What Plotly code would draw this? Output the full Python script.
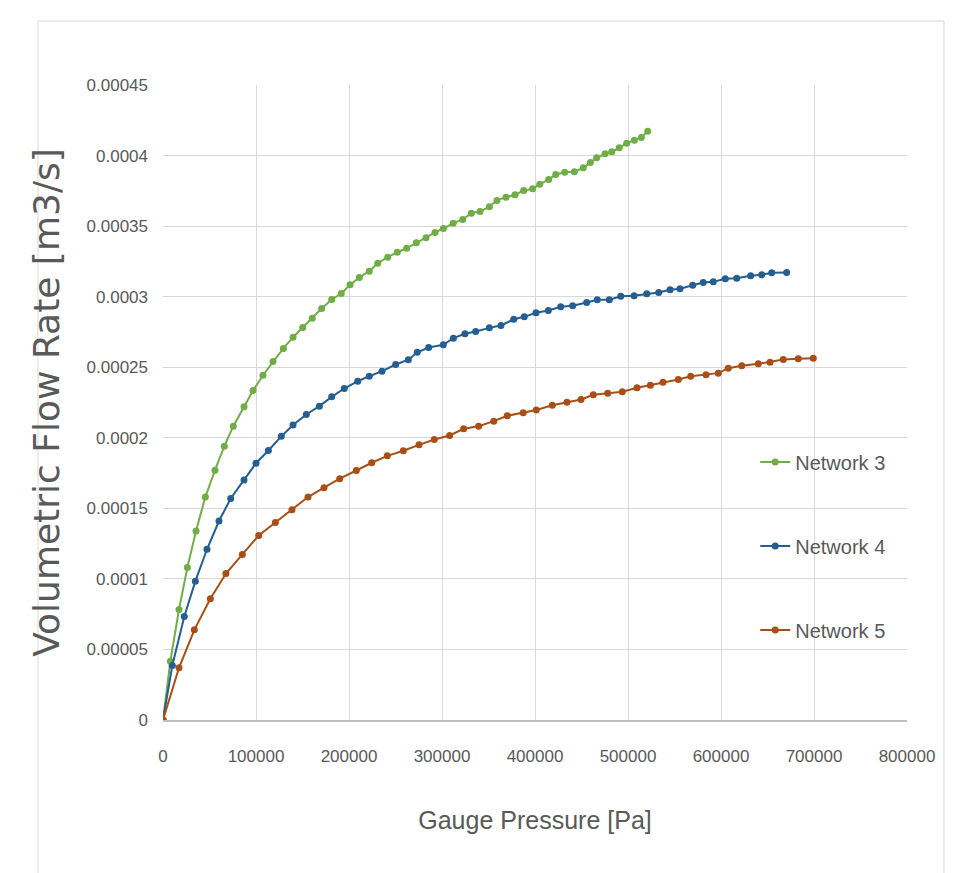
import plotly.graph_objects as go

# ---- data ----
net3_p = [0, 7900, 17200, 26200, 35500, 45500, 55900, 65900, 75600, 87100, 96800, 107500,
          118300, 129400, 139800, 150200, 160500, 170600, 181400, 191700, 201100, 211100,
          221800, 230900, 241600, 251900, 262000, 272400, 282800, 292500, 301400, 312100,
          322300, 331500, 340900, 350900, 359100, 368800, 378500, 387800, 397500, 405100,
          414700, 422300, 431900, 442300, 451900, 459500, 466300, 475300, 482500, 490600,
          498600, 506800, 514300, 521200]
net3_q = [0, 0.0000417, 0.0000783, 0.0001080, 0.0001340, 0.0001580, 0.0001770, 0.0001940,
          0.0002082, 0.0002220, 0.0002335, 0.0002443, 0.0002541, 0.0002633, 0.0002713,
          0.0002782, 0.0002847, 0.0002916, 0.0002980, 0.0003022, 0.0003084, 0.0003136,
          0.0003181, 0.0003237, 0.0003280, 0.0003315, 0.0003343, 0.0003382, 0.0003417,
          0.0003455, 0.0003483, 0.0003521, 0.0003547, 0.0003592, 0.0003604, 0.0003637,
          0.0003682, 0.0003705, 0.0003722, 0.0003752, 0.0003764, 0.0003797, 0.0003830,
          0.0003866, 0.0003882, 0.0003885, 0.0003913, 0.0003951, 0.0003984, 0.0004012,
          0.0004027, 0.0004055, 0.0004088, 0.0004109, 0.0004128, 0.0004173]

net4_p = [0, 10000, 22900, 34800, 47300, 60200, 72800, 87100, 100000, 113300, 127200, 139800,
          154100, 168100, 181400, 194900, 209400, 221800, 235500, 250200, 263800, 273400,
          285700, 301400, 312200, 324700, 336200, 350900, 363400, 377100, 388500, 401100,
          414300, 427600, 440500, 455600, 467000, 479900, 492200, 506500, 520100, 533000,
          545200, 555900, 569600, 580900, 591700, 604600, 616900, 631900, 643800, 654500,
          670600]
net4_q = [0, 0.0000386, 0.0000733, 0.0000984, 0.0001210, 0.0001410, 0.0001570, 0.0001700,
          0.0001820, 0.0001910, 0.0002010, 0.0002090, 0.0002165, 0.0002224, 0.0002290,
          0.0002349, 0.0002401, 0.0002436, 0.0002472, 0.0002519, 0.0002553, 0.0002606,
          0.0002640, 0.0002659, 0.0002706, 0.0002737, 0.0002753, 0.0002779, 0.0002796,
          0.0002840, 0.0002857, 0.0002886, 0.0002902, 0.0002928, 0.0002935, 0.0002959,
          0.0002978, 0.0002978, 0.0003003, 0.0003006, 0.0003020, 0.0003030, 0.0003049,
          0.0003056, 0.0003081, 0.0003100, 0.0003105, 0.0003127, 0.0003131, 0.0003148,
          0.0003155, 0.0003169, 0.0003171]

net5_p = [0, 17200, 33700, 50900, 67700, 85300, 102900, 120800, 138700, 155900, 173100,
          190000, 207900, 224400, 241200, 258400, 275300, 291700, 308200, 323300, 339400,
          355600, 370200, 387300, 401400, 418600, 434400, 449500, 462700, 478200, 493900,
          509700, 524100, 537600, 554100, 567400, 583900, 597100, 607800, 622300, 640100,
          652700, 667000, 683100, 699200]
net5_q = [0, 0.0000370, 0.0000639, 0.0000859, 0.0001038, 0.0001173, 0.0001308, 0.0001400,
          0.0001490, 0.0001580, 0.0001646, 0.0001710, 0.0001768, 0.0001823, 0.0001872,
          0.0001908, 0.0001950, 0.0001988, 0.0002016, 0.0002064, 0.0002082, 0.0002118,
          0.0002156, 0.0002177, 0.0002197, 0.0002231, 0.0002252, 0.0002271, 0.0002305,
          0.0002316, 0.0002326, 0.0002354, 0.0002372, 0.0002393, 0.0002413, 0.0002436,
          0.0002446, 0.0002458, 0.0002493, 0.0002510, 0.0002524, 0.0002536, 0.0002555,
          0.0002560, 0.0002564]

series_names = ["Network 3", "Network 4", "Network 5"]
series_colors = ["#70AD47", "#255E91", "#A84F17"]

x_tickvals = [0, 100000, 200000, 300000, 400000, 500000, 600000, 700000, 800000]
x_ticktext = ["0", "100000", "200000", "300000", "400000", "500000", "600000", "700000", "800000"]
y_tickvals = [0, 0.00005, 0.0001, 0.00015, 0.0002, 0.00025, 0.0003, 0.00035, 0.0004, 0.00045]
y_ticktext = ["0", "0.00005", "0.0001", "0.00015", "0.0002", "0.00025", "0.0003",
              "0.00035", "0.0004", "0.00045"]

NARROW = "Liberation Sans Narrow, Arial Narrow, Liberation Sans, sans-serif"

fig = go.Figure()
for i, (xs, ys) in enumerate([(net3_p, net3_q), (net4_p, net4_q), (net5_p, net5_q)]):
    fig.add_trace(go.Scatter(
        x=xs, y=ys, mode="lines+markers", name=series_names[i],
        legendgroup=series_names[i],
        line=dict(color=series_colors[i], width=2),
        marker=dict(color=series_colors[i], size=7, symbol="circle"),
    ))

fig.update_layout(
    width=964, height=865,
    margin=dict(l=155, r=65, t=77, b=153),
    paper_bgcolor="white", plot_bgcolor="white",
    showlegend=True,
    legend=dict(x=0.796, y=0.437, xanchor="left", yanchor="top",
                font=dict(family=NARROW, size=20, color="#595959"),
                tracegroupgap=55, itemwidth=30, bgcolor="rgba(0,0,0,0)"),
    xaxis=dict(range=[0, 800000], tickvals=x_tickvals, ticktext=x_ticktext,
               showgrid=True, gridcolor="#D9D9D9", gridwidth=1,
               zeroline=False, showline=True, linecolor="#BFBFBF", linewidth=1.5,
               ticks="", ticklabelstandoff=20,
               tickfont=dict(family=NARROW, size=17, color="#595959"),
               title=dict(text="Gauge Pressure [Pa]", standoff=46,
                          font=dict(family=NARROW, size=25, color="#595959"))),
    yaxis=dict(range=[0, 0.00045], tickvals=y_tickvals, ticktext=y_ticktext,
               showgrid=True, gridcolor="#D9D9D9", gridwidth=1,
               zeroline=False, showline=False,
               ticks="", ticklabelstandoff=14,
               tickfont=dict(family=NARROW, size=17, color="#595959"),
               title=dict(text="Volumetric Flow Rate [m3/s]", standoff=15,
                          font=dict(family="DejaVu Sans, Verdana, sans-serif", size=36,
                                    color="#595959"))),
    shapes=[dict(type="rect", xref="paper", yref="paper",
                 x0=-0.168, x1=1.0497, y0=-0.26, y1=1.1008,
                 line=dict(color="#D9D9D9", width=1), fillcolor="rgba(0,0,0,0)",
                 layer="below")],
)

fig.write_html("out.html")
